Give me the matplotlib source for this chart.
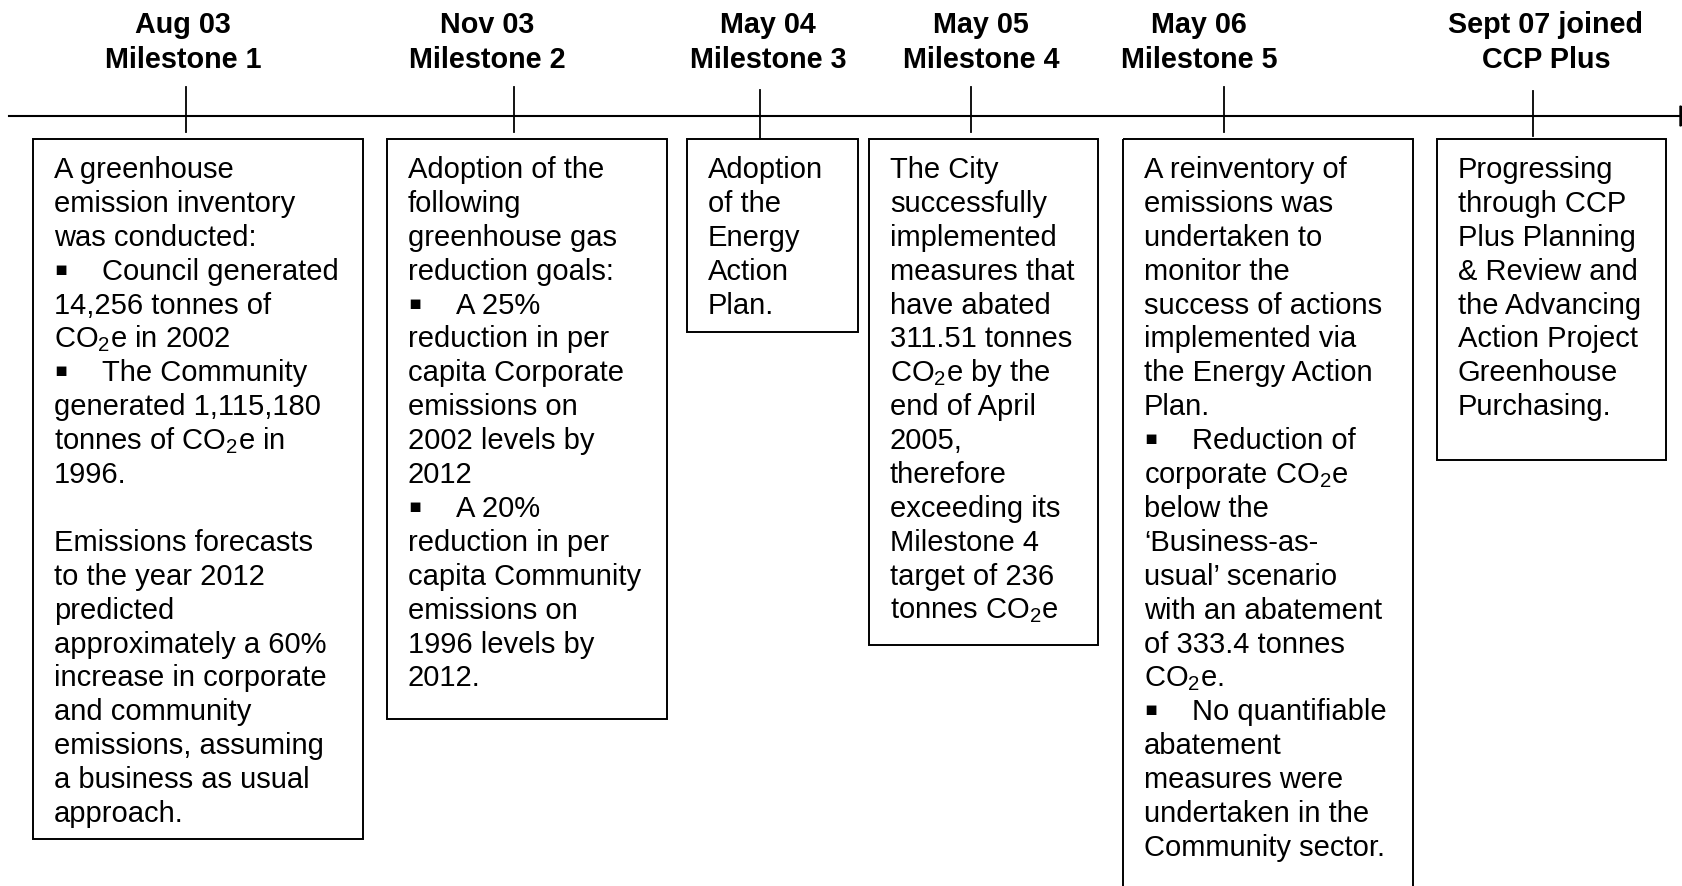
import matplotlib
matplotlib.use('Agg')
import matplotlib.pyplot as plt
from matplotlib.patches import Rectangle, Polygon

plt.rcParams['font.family'] = ['Liberation Sans', 'DejaVu Sans']
plt.rcParams['mathtext.fontset'] = 'custom'
plt.rcParams['mathtext.rm'] = 'Liberation Sans'

# milestone headings
dates = ['Aug 03', 'Nov 03', 'May 04', 'May 05', 'May 06', 'Sept 07 joined']
titles = ['Milestone 1', 'Milestone 2', 'Milestone 3', 'Milestone 4',
          'Milestone 5', 'CCP Plus']

# box texts ('▪ ' marks a bullet line)
desc_1 = ['A greenhouse', 'emission inventory', 'was conducted:',
          '▪ Council generated', '14,256 tonnes of', 'CO₂e in 2002',
          '▪ The Community', 'generated 1,115,180', 'tonnes of CO₂e in',
          '1996.', '', 'Emissions forecasts', 'to the year 2012', 'predicted',
          'approximately a 60%', 'increase in corporate', 'and community',
          'emissions, assuming', 'a business as usual', 'approach.']
desc_2 = ['Adoption of the', 'following', 'greenhouse gas', 'reduction goals:',
          '▪ A 25%', 'reduction in per', 'capita Corporate', 'emissions on',
          '2002 levels by', '2012', '▪ A 20%', 'reduction in per',
          'capita Community', 'emissions on', '1996 levels by', '2012.']
desc_3 = ['Adoption', 'of the', 'Energy', 'Action', 'Plan.']
desc_4 = ['The City', 'successfully', 'implemented', 'measures that',
          'have abated', '311.51 tonnes', 'CO₂e by the', 'end of April',
          '2005,', 'therefore', 'exceeding its', 'Milestone 4',
          'target of 236', 'tonnes CO₂e']
desc_5 = ['A reinventory of', 'emissions was', 'undertaken to', 'monitor the',
          'success of actions', 'implemented via', 'the Energy Action',
          'Plan.', '▪ Reduction of', 'corporate CO₂e', 'below the',
          '\u2018Business-as-', 'usual\u2019 scenario', 'with an abatement',
          'of 333.4 tonnes', 'CO₂e.', '▪ No quantifiable', 'abatement',
          'measures were', 'undertaken in the', 'Community sector.']
desc_6 = ['Progressing', 'through CCP', 'Plus Planning', '& Review and',
          'the Advancing', 'Action Project', 'Greenhouse', 'Purchasing.']
descs = [desc_1, desc_2, desc_3, desc_4, desc_5, desc_6]

# layout (pixels)
W, H = 1683, 887
line_y = 117
tick_x = [186, 514, 760, 971, 1224, 1533]
tick_top = [88, 88, 91, 88, 88, 92]
tick_bot = [133, 133, 140, 133, 133, 137]
head_x = [183, 487, 768, 981, 1199, 1546]
box_l = [33, 387, 687, 869, 1123, 1437]
box_r = [363, 667, 858, 1098, 1413, 1666]
box_b = [840, 720, 333, 646, 900, 461]
box_t = 140
first_base = 178
pitch = 33.9

fig = plt.figure(figsize=(W / 100, H / 100), dpi=100)
ax = fig.add_axes([0, 0, 1, 1])
ax.set_xlim(0, W)
ax.set_ylim(H, 0)
ax.axis('off')

# timeline
ax.plot([9, 1682], [line_y, line_y], color='black', lw=1.5)
ax.add_patch(Polygon([[1680, line_y - 10], [1680, line_y + 10], [1710, line_y]],
                     closed=True, color='black'))

for i in range(len(dates)):
    ax.plot([tick_x[i], tick_x[i]], [tick_top[i], tick_bot[i]], color='black', lw=1.3)
    ax.text(head_x[i], 33, dates[i], ha='center', va='baseline',
            fontsize=20.7, fontweight='bold')
    ax.text(head_x[i], 68, titles[i], ha='center', va='baseline',
            fontsize=20.7, fontweight='bold')

    ax.add_patch(Rectangle((box_l[i], box_t), box_r[i] - box_l[i], box_b[i] - box_t,
                           fill=False, edgecolor='black', lw=1.4))
    x0 = box_l[i] + 21
    for j, s in enumerate(descs[i]):
        y = first_base + j * pitch
        s = s.replace('₂', r'$_\mathregular{2}$')
        if s.startswith('▪ '):
            ax.text(x0, y - 5, '▪', ha='left', va='baseline', fontsize=14,
                    family=['DejaVu Sans'])
            ax.text(x0 + 48, y, s[2:], ha='left', va='baseline', fontsize=21)
        else:
            ax.text(x0, y, s, ha='left', va='baseline', fontsize=21)

fig.savefig('out.png', dpi=100)
